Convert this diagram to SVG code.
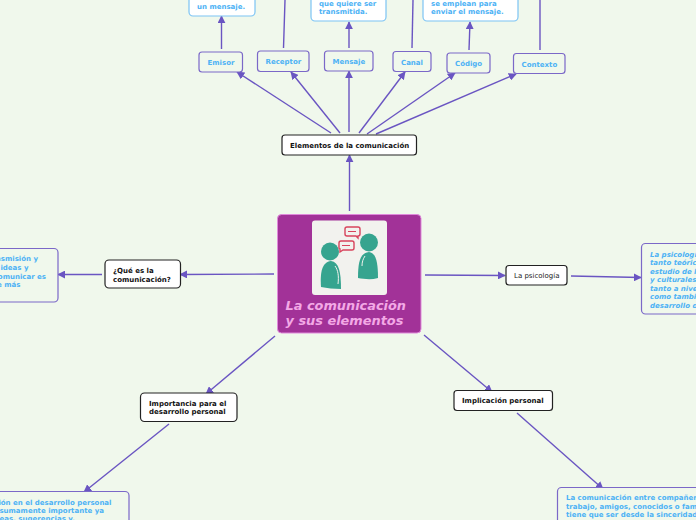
<svg xmlns="http://www.w3.org/2000/svg" width="696" height="520" viewBox="0 0 696 520">
<defs>
<marker id="a" viewBox="0 0 10 10" refX="9" refY="5" markerWidth="8" markerHeight="8" markerUnits="userSpaceOnUse" orient="auto"><path d="M0 0L10 5L0 10Z" fill="#6a55c2"/></marker>
</defs>
<style>
text{font-family:"DejaVu Sans",Verdana,sans-serif;font-size:7px;font-weight:700}
.c{fill:none;stroke:#6a55c2;stroke-width:1.4;marker-end:url(#a)}
.n{fill:none;stroke:#6a55c2;stroke-width:1.4}
.k{fill:#fff;stroke:#222;stroke-width:1.2}
.kt{fill:#111}
.p{fill:#f0f8ec;stroke:#7b68c8;stroke-width:1.2}
.l{fill:#fff;stroke:#7cc4f4;stroke-width:1.2}
.b{fill:#4db2f5}
.i{font-style:italic}
.h{fill:#36a48f}
.s{fill:#f2f2ee;stroke:#d8445c;stroke-width:1.4}
.d{stroke:#d8445c;stroke-width:1}
.t{font-size:12.900px;fill:#f3a9e6;font-style:italic}
</style>
<rect width="696" height="520" fill="#f0f8ec"/>
<g id="connectors">
<path class="c" d="M349.5 211V155"/>
<path class="c" d="M274 274L180 274.5"/>
<path class="c" d="M425 275L505 275.5"/>
<path class="c" d="M275 336L206 394"/>
<path class="c" d="M424 335L492 392"/>
<path class="c" d="M102 274.5H58"/>
<path class="c" d="M571 276L641 277.5"/>
<path class="c" d="M169 424L84 492"/>
<path class="c" d="M517 413L603 489"/>
<path class="c" d="M331 133L237 72"/>
<path class="c" d="M340 133L291 72"/>
<path class="c" d="M349 132V71"/>
<path class="c" d="M359 133L405 72"/>
<path class="c" d="M367 134L455 73"/>
<path class="c" d="M376 134L516 74"/>
<path class="c" d="M221.5 49V16"/>
<path class="n" d="M283.5 48L285 0"/>
<path class="c" d="M349 48V22"/>
<path class="n" d="M412 48L413 0"/>
<path class="c" d="M469 50L470 22"/>
<path class="n" d="M540 50V0"/>
</g>
<g id="central">
<rect x="277.5" y="214.5" width="143.5" height="118.5" rx="4" fill="#a23298" stroke="#e08adb"/>
<rect x="312" y="220.5" width="75" height="74.500" rx="3" fill="#f2f2ee"/>
<circle class="h" cx="330" cy="251.500" r="9"/>
<circle class="h" cx="369" cy="242.500" r="9"/>
<path class="h" d="M331 261C339 262 341 272 341 289C334 289 327 288 321 287C320 272 322 262 331 261Z"/>
<path class="h" d="M369 252C376 253 378 262 378 278C371 280 364 279 358 278C358 262 360 253 369 252Z"/>
<path d="M335 266C338 270 339 276 338 284" stroke="#f2f2ee" stroke-width="1" fill="none"/>
<path d="M365 256C363 259 362 262 362 266" stroke="#f2f2ee" stroke-width="1" fill="none"/>
<path class="s" d="M347 227H358Q360 227 360 229V234Q360 236 358 236V238L356 236H347Q345 236 345 234V229Q345 227 347 227Z"/>
<path class="d" d="M348 231.500H356"/>
<path class="s" d="M341 241H352Q354 241 354 243V248Q354 250 352 250H343L340 252V249Q339 249 339 248V243Q339 241 341 241Z"/>
<path class="d" d="M342 245.500H350"/>
<text class="t" x="285.500" y="310">La comunicación</text>
<text class="t" x="285.500" y="325">y sus elementos</text>
</g>
<g id="elementos"><rect class="k" x="282" y="135" width="134.500" height="20" rx="3"/><text class="kt" x="290" y="148">Elementos de la comunicación</text></g>
<g id="que-es"><rect class="k" x="105" y="260" width="75.500" height="28" rx="4"/><text class="kt" x="113" y="273">¿Qué es la</text><text class="kt" x="113" y="281.500">comunicación?</text></g>
<g id="psicologia"><rect class="k" x="506" y="265.500" width="61" height="19.500" rx="3"/><text x="514" y="278" fill="#222" style="font-weight:400">La psicología</text></g>
<g id="importancia"><rect class="k" x="140.500" y="393" width="96.500" height="28.500" rx="4"/><text class="kt" x="149" y="406">Importancia para el</text><text class="kt" x="149" y="414">desarrollo personal</text></g>
<g id="implicacion"><rect class="k" x="454" y="390.500" width="98.500" height="20" rx="3"/><text class="kt" x="462" y="403">Implicación personal</text></g>
<g id="emisor"><rect class="p" x="199" y="52" width="43.500" height="20" rx="3"/><text class="b" x="207.500" y="65">Emisor</text></g>
<g id="receptor"><rect class="p" x="257.500" y="51" width="51.500" height="20.500" rx="3"/><text class="b" x="265.500" y="64">Receptor</text></g>
<g id="mensaje"><rect class="p" x="324.500" y="51" width="48.500" height="20" rx="3"/><text class="b" x="332.500" y="64">Mensaje</text></g>
<g id="canal"><rect class="p" x="393" y="51.500" width="38" height="20" rx="3"/><text class="b" x="401" y="64.500">Canal</text></g>
<g id="codigo"><rect class="p" x="447" y="53" width="43" height="20" rx="3"/><text class="b" x="455" y="66">Código</text></g>
<g id="contexto"><rect class="p" x="513.500" y="53.500" width="51.500" height="20" rx="3"/><text class="b" x="521.500" y="66.500">Contexto</text></g>
<g id="emisor-texto"><rect class="l" x="189" y="-30" width="66" height="46" rx="4"/><text class="b" x="197" y="9">un mensaje.</text></g>
<g id="mensaje-texto"><rect class="l" x="311" y="-30" width="75" height="51" rx="4"/><text class="b" x="319" y="6">que quiere ser</text><text class="b" x="319" y="14">transmitida.</text></g>
<g id="codigo-texto"><rect class="l" x="423" y="-30" width="95" height="51" rx="4"/><text class="b" x="431" y="6">se emplean para</text><text class="b" x="431" y="14">enviar el mensaje.</text></g>
<g id="que-es-texto"><rect class="p" x="-60" y="248.500" width="118" height="53.500" rx="4"/>
<text class="b" x="38" y="261" text-anchor="end">transmisión y</text>
<text class="b" x="28.500" y="270" text-anchor="end">ideas y</text>
<text class="b" x="46" y="278.500" text-anchor="end">comunicar es</text>
<text class="b" x="20.500" y="287" text-anchor="end">de más</text></g>
<g id="psicologia-texto"><rect class="p" x="641.500" y="243.500" width="80" height="70.500" rx="4"/>
<text class="b i" x="650" y="256.500">La psicología</text>
<text class="b i" x="650" y="265">tanto teórica</text>
<text class="b i" x="650" y="273.500">estudio de la</text>
<text class="b i" x="650" y="282">y culturales</text>
<text class="b i" x="650" y="290.500">tanto a nivel</text>
<text class="b i" x="650" y="299">como también</text>
<text class="b i" x="650" y="307.500">desarrollo de</text></g>
<g id="importancia-texto"><rect class="p" x="-30" y="491.500" width="159" height="50" rx="4"/>
<text class="b" x="111.500" y="504.500" text-anchor="end">comunicación en el desarrollo personal</text>
<text class="b" x="104" y="513" text-anchor="end">es sumamente importante ya</text>
<text class="b" x="75" y="521" text-anchor="end">ideas, sugerencias y,</text></g>
<g id="implicacion-texto"><rect class="p" x="557.500" y="487.500" width="180" height="50" rx="4"/>
<text class="b" x="566" y="500">La comunicación entre compañeros de</text>
<text class="b" x="566" y="508.500">trabajo, amigos, conocidos o familia</text>
<text class="b" x="566" y="517">tiene que ser desde la sinceridad</text></g>
</svg>
